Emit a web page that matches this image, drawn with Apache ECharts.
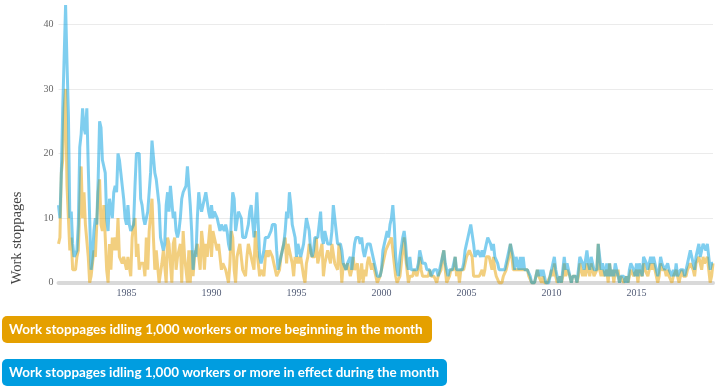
<!DOCTYPE html>
<html>
<head>
<meta charset="utf-8">
<script src="https://cdn.jsdelivr.net/npm/echarts@6/dist/echarts.min.js"></script>
<style>html,body{margin:0;padding:0;background:#fff;}#chart{width:721px;height:388px;}</style>
</head>
<body>
<div id="chart"></div>
<script>
// Monthly series, January 1981 onward (one row per year)
const startYear = 1981;
const beginning = [
  6,7,17,19,27,30,15,10,5,7,2,2,        // 1981
  2,4,5,12,18,10,14,9,9,4,0,1,          // 1982
  3,5,4,9,14,16,9,8,12,7,2,0,           // 1983
  6,2,7,5,7,5,10,4,4,3,4,4,             // 1984
  2,4,4,1,7,9,10,4,6,2,3,3,             // 1985
  3,1,7,2,8,8,13,7,2,5,5,0,             // 1986
  0,3,5,5,0,7,6,3,0,6,7,2,              // 1987
  4,5,6,0,8,4,2,0,5,0,5,1,              // 1988
  4,4,6,6,2,8,6,2,6,4,4,9,              // 1989
  4,8,7,6,5,6,4,2,3,3,2,1,              // 1990
  0,3,8,7,2,0,4,5,6,4,2,2,              // 1991
  1,4,6,5,5,3,2,8,5,3,1,2,              // 1992
  2,1,4,5,4,5,5,4,3,2,1,1,              // 1993
  2,4,5,6,7,3,6,5,4,3,1,4,              // 1994
  3,4,3,4,4,1,0,3,4,6,5,4,              // 1995
  4,4,7,3,4,5,6,1,3,4,5,4,              // 1996
  3,6,6,3,3,2,6,4,0,3,3,2,              // 1997
  3,3,1,2,4,2,2,3,0,1,3,0,              // 1998
  2,1,3,4,3,2,3,2,1,0,0,1,              // 1999
  2,3,3,5,5,6,6,7,5,3,1,0,              // 2000
  0,1,3,5,7,4,2,0,1,1,1,2,              // 2001
  2,1,2,4,2,1,1,1,1,1,2,1,              // 2002
  1,1,1,0,1,1,2,4,5,2,0,0,              // 2003
  1,2,2,2,4,1,2,0,2,2,2,2,              // 2004
  4,4,5,5,4,1,1,1,1,1,1,2,              // 2005
  1,2,4,4,4,4,2,4,2,1,1,0,              // 2006
  0,0,1,1,2,3,4,6,4,2,2,2,              // 2007
  2,2,2,2,2,2,2,2,1,1,0,0,              // 2008
  0,0,2,1,1,0,1,0,0,0,0,1,              // 2009
  2,1,3,1,0,0,1,0,1,3,1,2,              // 2010
  2,1,0,1,1,1,0,1,3,2,1,2,              // 2011
  1,3,2,1,3,2,1,1,2,6,2,1,              // 2012
  2,1,1,2,0,3,1,2,0,2,1,2,              // 2013
  0,1,1,0,0,1,0,1,2,2,1,1,              // 2014
  2,0,2,2,1,3,2,2,1,1,3,2,              // 2015
  3,2,1,0,1,3,2,2,2,1,2,1,              // 2016
  1,0,1,1,2,1,0,1,2,1,1,1,              // 2017
  2,2,3,3,2,1,3,3,4,3,2,4,              // 2018
  3,3,4,2,0,1,3                         // 2019
];
const inEffect = [
  12,10,17,27,27,43,34,26,10,11,6,4,    // 1981
  4,5,9,21,23,27,24,23,27,18,10,2,      // 1982
  4,8,10,9,16,25,24,19,19,17,10,8,      // 1983
  13,13,10,14,15,14,20,19,17,15,13,10,  // 1984
  9,12,9,8,8,9,15,20,20,20,13,12,       // 1985
  10,9,9,11,14,17,22,22,17,16,14,12,    // 1986
  7,7,5,6,12,14,11,15,15,10,11,8,       // 1987
  7,8,10,13,14,14,15,18,15,12,8,2,      // 1988
  5,4,10,14,12,11,12,12,14,14,11,10,    // 1989
  12,10,11,11,10,9,8,9,9,8,9,8,         // 1990
  6,5,10,14,13,8,8,11,11,10,7,7,        // 1991
  7,8,9,11,12,12,7,10,14,9,4,3,         // 1992
  3,5,7,7,7,7,8,9,9,9,5,2,              // 1993
  2,4,5,6,8,11,10,14,12,9,8,7,          // 1994
  4,6,5,4,5,6,8,10,10,8,5,4,            // 1995
  5,7,7,7,9,11,7,6,8,7,6,6,             // 1996
  6,8,12,10,8,6,6,6,5,3,3,2,            // 1997
  3,3,4,2,4,6,7,7,7,6,7,5,              // 1998
  4,5,6,6,6,5,4,4,2,1,1,1,              // 1999
  2,5,6,7,8,7,9,10,12,9,4,2,            // 2000
  1,4,4,7,8,6,3,2,4,2,2,2,              // 2001
  2,2,3,5,4,3,3,3,2,2,2,1,              // 2002
  1,2,2,2,1,2,2,4,5,3,2,1,              // 2003
  2,2,2,2,4,2,2,2,2,2,3,5,              // 2004
  6,7,8,9,9,6,4,4,5,5,4,5,              // 2005
  4,5,6,7,7,6,5,6,4,4,3,2,              // 2006
  2,2,2,2,3,4,5,6,6,4,2,4,              // 2007
  4,2,4,2,4,2,2,2,2,1,0,0,              // 2008
  0,0,2,1,2,1,2,1,0,0,0,1,              // 2009
  2,2,4,2,1,0,1,0,2,4,2,3,              // 2010
  3,1,0,1,1,1,0,2,4,4,3,2,              // 2011
  2,5,3,2,4,3,2,2,2,6,4,2,              // 2012
  3,2,1,3,1,3,1,2,1,3,2,2,              // 2013
  0,1,1,1,0,1,0,2,3,3,2,1,              // 2014
  3,1,3,2,1,4,4,3,2,2,4,3,              // 2015
  4,3,2,1,2,4,3,3,2,2,3,2,              // 2016
  2,1,2,1,3,1,1,2,2,2,1,2,              // 2017
  3,4,5,4,3,2,4,5,6,4,4,6,              // 2018
  6,5,6,6,2,3,3                         // 2019
];
const xTickLabels = ['1985','1990','1995','2000','2005','2010','2015'];
const yTicks = [0, 10, 20, 30, 40];
const seriesNames = [
  'Work stoppages idling 1,000 workers or more beginning in the month',
  'Work stoppages idling 1,000 workers or more in effect during the month'
];
const yAxisTitle = 'Work stoppages';

const months = beginning.map((_, i) =>
  (startYear + Math.floor(i / 12)) + '-' + String(i % 12 + 1).padStart(2, '0'));

const ORANGE = '#e5a000';
const BLUE = '#009de0';

const chart = echarts.init(document.getElementById('chart'), null, {renderer: 'canvas'});
chart.setOption({
  animation: false,
  backgroundColor: '#ffffff',
  grid: {left: 58.5, right: 8, top: 24.3, bottom: 105.3},
  xAxis: {
    type: 'category',
    data: months,
    boundaryGap: false,
    offset: 2,
    axisLine: {lineStyle: {color: '#d9d9d9', width: 4}},
    axisTick: {show: false},
    splitLine: {show: false},
    axisLabel: {
      interval: (idx, val) => val.endsWith('-01') && xTickLabels.includes(val.slice(0, 4)),
      formatter: val => val.slice(0, 4),
      color: '#56607a',
      fontFamily: 'Liberation Serif',
      fontSize: 10,
      margin: 4,
      hideOverlap: false
    }
  },
  yAxis: {
    type: 'value',
    min: yTicks[0],
    max: yTicks[yTicks.length - 1],
    interval: 10,
    axisLine: {show: false},
    axisTick: {show: false},
    splitLine: {lineStyle: {color: '#ebebeb', width: 1}},
    axisLabel: {color: '#666', fontFamily: 'Liberation Serif', fontSize: 10, margin: 5}
  },
  series: [
    {
      name: seriesNames[0], type: 'line', data: beginning, showSymbol: false, clip: false,
      lineStyle: {color: ORANGE, width: 3, opacity: 0.5}, itemStyle: {color: ORANGE}
    },
    {
      name: seriesNames[1], type: 'line', data: inEffect, showSymbol: false, clip: false,
      lineStyle: {color: BLUE, width: 3, opacity: 0.5}, itemStyle: {color: BLUE}
    }
  ],
  graphic: [
    {type: 'text', x: 17, y: 238, rotation: Math.PI / 2,
     style: {text: yAxisTitle, fill: '#444', font: '14.5px "Liberation Serif"', align: 'center', verticalAlign: 'middle'}},
    {type: 'rect', shape: {x: 2, y: 316, width: 430, height: 27, r: 5}, style: {fill: ORANGE}},
    {type: 'text', x: 9, y: 329.5,
     style: {text: seriesNames[0], fill: '#fff', font: 'bold 13.45px Lato', verticalAlign: 'middle'}},
    {type: 'rect', shape: {x: 2, y: 359, width: 445, height: 27, r: 5}, style: {fill: BLUE}},
    {type: 'text', x: 9, y: 373,
     style: {text: seriesNames[1], fill: '#fff', font: 'bold 13.4px Lato', verticalAlign: 'middle'}}
  ]
});
</script>
</body>
</html>
